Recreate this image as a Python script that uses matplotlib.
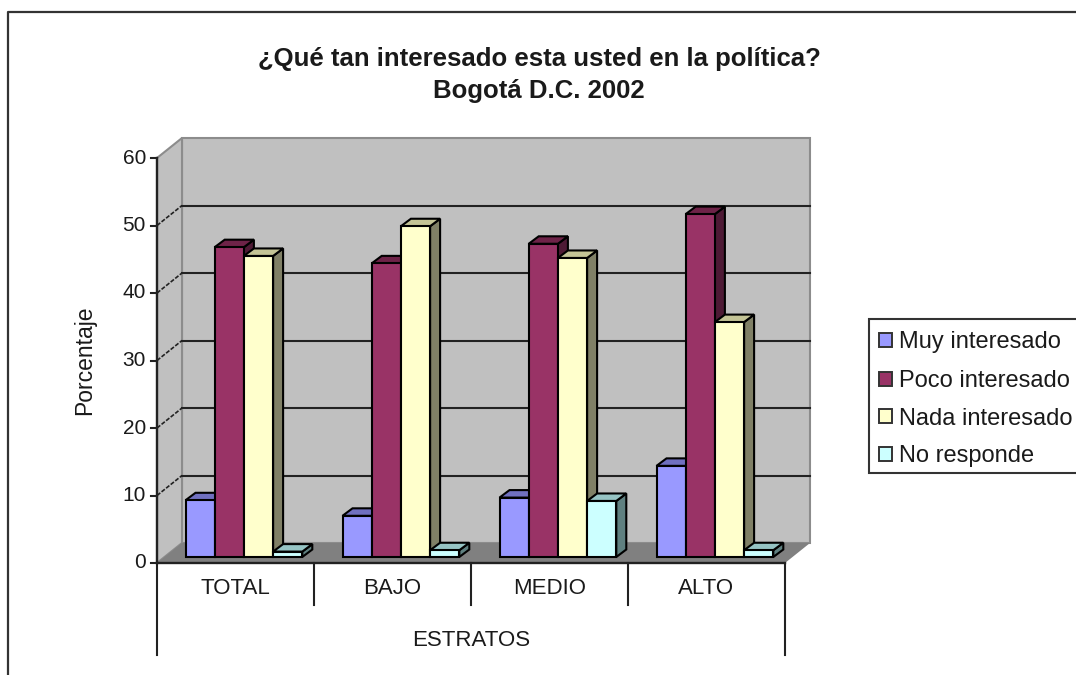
import matplotlib
matplotlib.use("Agg")
import matplotlib.pyplot as plt
from matplotlib.patches import Polygon, Rectangle
import numpy as np

plt.rcParams['font.family'] = ['Liberation Sans', 'DejaVu Sans']

categories = ["TOTAL", "BAJO", "MEDIO", "ALTO"]
group_label = "ESTRATOS"
series_names = ["Muy interesado", "Poco interesado", "Nada interesado", "No responde"]
muy = [8.4, 6.1, 8.8, 13.5]
poco = [45.9, 43.5, 46.4, 50.8]
nada = [44.6, 49.0, 44.3, 34.8]
no_resp = [0.8, 1.0, 8.3, 1.0]
yticks = [0, 10, 20, 30, 40, 50, 60]
title = "¿Qué tan interesado esta usted en la política?\nBogotá D.C. 2002"
ylabel = "Porcentaje"

face = ["#9999FF", "#993366", "#FFFFCC", "#CCFFFF"]
top = ["#7070C0", "#6E2348", "#C4C496", "#96C4C4"]
side = ["#55558F", "#4E1A35", "#808066", "#5F8080"]

W, H = 1076, 675
fig = plt.figure(figsize=(W / 100, H / 100), dpi=100, facecolor="white")
L, R, B, T = 157, 785, 563, 158
ax = fig.add_axes([L / W, 1 - B / H, (R - L) / W, (B - T) / H])
ax.set_xlim(0, 4)
ax.set_ylim(0, 60)
ax.axis("off")

px = 4 / (R - L)
py = 60 / (B - T)
dx, dy = 25 * px, 20 * py


def poly(pts, fc, ec="none", lw=0, z=1):
    ax.add_patch(Polygon(pts, closed=True, fc=fc, ec=ec, lw=lw, zorder=z, clip_on=False))


# walls and floor
poly([(dx, dy), (4 + dx, dy), (4 + dx, 60 + dy), (dx, 60 + dy)], "#C0C0C0", "#8C8C8C", 1.5)
poly([(0, 0), (dx, dy), (dx, 60 + dy), (0, 60)], "#C0C0C0", "#8C8C8C", 1.5)
poly([(0, 0), (4, 0), (4 + dx, dy), (dx, dy)], "#808080", z=1.5)

# gridlines
for v in yticks[1:-1]:
    ax.plot([dx, 4 + dx], [v + dy, v + dy], color="#222222", lw=1.5, zorder=2, clip_on=False)
    ax.plot([0, dx], [v, v + dy], color="#222222", lw=1.2, ls=(0, (2.5, 1)), zorder=2, clip_on=False)

# bars
bw = 29.2 * px
first = 28.5 * px
base = 6 * py
bx, by = 10 * px, 7.5 * py
series = [muy, poco, nada, no_resp]
for i in range(len(categories)):
    for s, vals in enumerate(series):
        x0 = i + first + s * bw
        y1 = vals[i] + base
        z = 3 + i + s * 0.1
        poly([(x0 + bw, base), (x0 + bw + bx, base + by), (x0 + bw + bx, y1 + by), (x0 + bw, y1)],
             side[s], "black", 1.5, z)
        poly([(x0, y1), (x0 + bw, y1), (x0 + bw + bx, y1 + by), (x0 + bx, y1 + by)],
             top[s], "black", 1.5, z)
        ax.bar(x0, vals[i], bw, bottom=base, align="edge", color=face[s], edgecolor="black",
               linewidth=1.5, zorder=z + 0.05, clip_on=False)

# axes lines and ticks
axc = "#222222"
tc = "#1a1a1a"
ax.plot([0, 0], [0, 60], color=axc, lw=1.7, zorder=9, clip_on=False)
ax.plot([0, 4], [0, 0], color=axc, lw=1.7, zorder=9, clip_on=False)
for v in yticks:
    ax.plot([-6 * px, 0], [v, v], color=axc, lw=1.5, zorder=9, clip_on=False)
    ax.text(-11 * px, v, str(v), ha="right", va="center", fontsize=15, color=tc)

# category separators
for k in range(5):
    lo = -92 * py if k in (0, 4) else -42 * py
    ax.plot([k, k], [0, lo], color=axc, lw=1.5, zorder=9, clip_on=False)
for k, c in enumerate(categories):
    ax.text(k + 0.5, -26 * py, c, ha="center", va="center", fontsize=16, color=tc)
ax.text(2, -77 * py, group_label, ha="center", va="center", fontsize=16, color=tc)
ax.text(-72 * px, 30, ylabel, rotation=90, ha="center", va="center", fontsize=16.5, color=tc)

# title and frame live in figure space
fig.text(539 / W, 1 - 75 / H, title, ha="center", va="center", fontsize=18.5, fontweight="bold",
         linespacing=1.45, color=tc)
fig.add_artist(plt.Line2D([8 / W, 8 / W, 1], [0, 1 - 12 / H, 1 - 12 / H], color="#333333", lw=1.6))

# legend
fig.add_artist(Rectangle((869 / W, 1 - 473 / H), 230 / W, 154 / H, fc="white", ec="#333333", lw=1.5,
                         transform=fig.transFigure))
for s, (name, yy, bl) in enumerate(zip(series_names, [340, 379, 416, 454], [348, 387, 425, 462])):
    fig.add_artist(Rectangle((879 / W, 1 - (yy + 7) / H), 13 / W, 14 / H, fc=face[s], ec="#333333", lw=1.4,
                             transform=fig.transFigure))
    fig.text(899 / W, 1 - bl / H, name, ha="left", va="baseline", fontsize=17, color=tc)

fig.savefig("out.png", dpi=100)
